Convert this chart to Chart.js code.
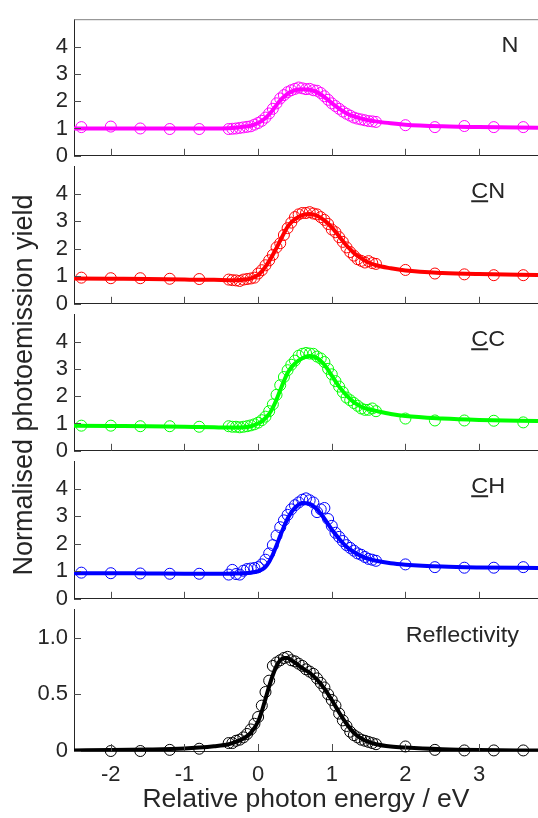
<!DOCTYPE html>
<html lang="en">
<head>
<meta charset="UTF-8">
<title>Normalised photoemission yield</title>
<script src="https://cdn.jsdelivr.net/npm/chart.js@4"></script>
<style>
    body { margin: 0; background: #fff; font-family: 'Liberation Sans', Arial, sans-serif; color: #262626; }
    #fig { position: relative; width: 538px; height: 818px; overflow: hidden; }
    .panel { position: absolute; left: 0; }
    .tag { position: absolute; right: 19px; font-size: 21.5px; line-height: 1; z-index: 2;
           transform: translateY(-50%) scaleX(1.09); transform-origin: right center; }
    .tag.c { right: 33px; }
    .u { text-decoration: underline; }
    #ylab { position: absolute; width: 420px; left: -187px; top: 371px; text-align: center;
            font-size: 27px; line-height: 28px; transform: rotate(-90deg); z-index: 2; }
</style>
</head>
<body>
<div id="fig">
    <div class="panel" style="top:0px"><canvas id="pN" width="538" height="175"></canvas></div>
    <div class="panel" style="top:147px"><canvas id="pCN" width="538" height="176"></canvas></div>
    <div class="panel" style="top:295px"><canvas id="pCC" width="538" height="175"></canvas></div>
    <div class="panel" style="top:442px"><canvas id="pCH" width="538" height="176"></canvas></div>
    <div class="panel" style="top:590px"><canvas id="pR" width="538" height="228"></canvas></div>

    <div class="tag" style="top:46px">N</div>
    <div class="tag c" style="top:192px"><span class="u">C</span>N</div>
    <div class="tag c" style="top:340px"><span class="u">C</span>C</div>
    <div class="tag c" style="top:487px"><span class="u">C</span>H</div>
    <div class="tag" style="top:636px">Reflectivity</div>
    <div id="ylab">Normalised photoemission yield</div>
</div>

<script>
// measured photon energies (eV, relative)
const energy = [-2.4, -2.0, -1.6, -1.2, -0.8,
    -0.4, -0.35, -0.3, -0.25, -0.2, -0.15, -0.1, -0.05,
    0, 0.05, 0.1, 0.15, 0.2, 0.25, 0.3, 0.35, 0.4, 0.45, 0.5, 0.55, 0.6, 0.65, 0.7, 0.75,
    0.8, 0.85, 0.9, 0.95, 1.0, 1.05, 1.1, 1.15, 1.2, 1.25, 1.3, 1.35, 1.4, 1.45, 1.5, 1.55, 1.6,
    2.0, 2.4, 2.8, 3.2, 3.6];

const yieldN = [1.05, 1.07, 1.0, 0.98, 0.98,
    0.98, 0.99, 1.0, 1.02, 1.04, 1.06, 1.08, 1.14,
    1.2, 1.28, 1.4, 1.55, 1.72, 1.92, 2.1, 2.22, 2.33, 2.4, 2.45, 2.5, 2.47, 2.44, 2.45, 2.4,
    2.38, 2.3, 2.18, 2.05, 1.92, 1.82, 1.72, 1.62, 1.54, 1.47, 1.4, 1.36, 1.33, 1.3, 1.27, 1.26, 1.24,
    1.12, 1.05, 1.09, 1.05, 1.05];

const yieldCN = [0.95, 0.93, 0.93, 0.91, 0.9,
    0.88, 0.86, 0.85, 0.83, 0.88, 0.9, 0.92, 0.95,
    1.1, 1.22, 1.4, 1.58, 1.78, 2.05, 2.2, 2.5, 2.75, 2.95, 3.15, 3.25, 3.3, 3.3, 3.33, 3.28,
    3.25, 3.15, 3.05, 2.9, 2.7, 2.6, 2.42, 2.25, 2.05, 1.88, 1.75, 1.62, 1.56, 1.5, 1.55, 1.48, 1.45,
    1.23, 1.1, 1.07, 1.04, 1.04];

const yieldCC = [0.92, 0.92, 0.9, 0.9, 0.88,
    0.9, 0.88, 0.88, 0.86, 0.88, 0.9, 0.93, 0.97,
    1.03, 1.12, 1.25, 1.45, 1.7, 2.05, 2.4, 2.7, 2.95, 3.15, 3.3, 3.48, 3.55, 3.58, 3.56, 3.55,
    3.45, 3.38, 3.25, 3.0, 2.8, 2.55, 2.35, 2.15, 1.95, 1.85, 1.75, 1.65, 1.55, 1.5, 1.5, 1.55, 1.45,
    1.18, 1.11, 1.11, 1.1, 1.04];

const yieldCH = [0.95, 0.93, 0.92, 0.91, 0.91,
    0.88, 1.05, 0.9, 0.88, 1.02, 1.08, 1.1, 1.12,
    1.15, 1.25, 1.42, 1.65, 1.95, 2.3, 2.6, 2.85, 3.05, 3.25, 3.4, 3.5, 3.6, 3.65, 3.58, 3.5,
    3.15, 3.25, 3.3, 2.9, 2.65, 2.4, 2.25, 2.1, 1.95, 1.85, 1.75, 1.65, 1.6, 1.52, 1.45, 1.42, 1.38,
    1.25, 1.15, 1.13, 1.13, 1.15];

// reflectivity has no point at -2.4
const reflEnergy = energy.slice(1);
const reflectivity = [0.0, 0.0, 0.01, 0.02,
    0.07, 0.07, 0.09, 0.1, 0.12, 0.15, 0.19, 0.24,
    0.3, 0.4, 0.52, 0.62, 0.75, 0.78, 0.8, 0.82, 0.83, 0.8, 0.79, 0.77, 0.75, 0.72, 0.7, 0.68,
    0.64, 0.6, 0.56, 0.5, 0.45, 0.4, 0.33, 0.27, 0.22, 0.17, 0.14, 0.12, 0.1, 0.09, 0.08, 0.07, 0.06,
    0.04, 0.01, 0.005, 0.005, 0.005];

// fitted curves
const fitEnergy = [-2.5, -2.0, -1.5, -1.0, -0.8, -0.6, -0.4, -0.3, -0.2, -0.1,
    0, 0.05, 0.1, 0.15, 0.2, 0.25, 0.3, 0.35, 0.4, 0.45, 0.5, 0.6, 0.7, 0.8, 0.9,
    1.0, 1.1, 1.2, 1.3, 1.4, 1.5, 1.6, 1.8, 2.0, 2.5, 3.0, 3.8];
const fitN = [1.0, 1.0, 1.0, 1.0, 1.0, 1.0, 1.01, 1.03, 1.06, 1.1,
    1.2, 1.28, 1.38, 1.52, 1.68, 1.86, 2.03, 2.16, 2.27, 2.35, 2.4, 2.44, 2.42, 2.33, 2.15,
    1.93, 1.73, 1.56, 1.44, 1.36, 1.3, 1.26, 1.19, 1.14, 1.08, 1.05, 1.03];
const fitCN = [0.92, 0.91, 0.9, 0.88, 0.87, 0.87, 0.86, 0.86, 0.87, 0.92,
    1.05, 1.18, 1.35, 1.55, 1.78, 2.03, 2.3, 2.56, 2.8, 2.96, 3.08, 3.22, 3.26, 3.2, 3.03,
    2.78, 2.45, 2.12, 1.85, 1.65, 1.5, 1.4, 1.29, 1.21, 1.12, 1.08, 1.05];
const fitCC = [0.92, 0.91, 0.9, 0.88, 0.87, 0.86, 0.85, 0.85, 0.86, 0.9,
    1.0, 1.08, 1.2, 1.35, 1.58, 1.88, 2.22, 2.55, 2.85, 3.05, 3.2, 3.39, 3.47, 3.4, 3.15,
    2.75, 2.35, 2.03, 1.78, 1.61, 1.52, 1.46, 1.35, 1.27, 1.18, 1.13, 1.09];
const fitCH = [0.93, 0.93, 0.92, 0.91, 0.91, 0.91, 0.91, 0.92, 0.93, 0.95,
    1.0, 1.06, 1.16, 1.35, 1.61, 1.94, 2.29, 2.62, 2.91, 3.14, 3.31, 3.48, 3.45, 3.25, 2.91,
    2.52, 2.18, 1.89, 1.7, 1.55, 1.45, 1.38, 1.29, 1.24, 1.17, 1.14, 1.12];
const fitRefl = [0.005, 0.008, 0.013, 0.022, 0.03, 0.042, 0.06, 0.08, 0.11, 0.16,
    0.26, 0.35, 0.46, 0.57, 0.67, 0.75, 0.8, 0.82, 0.82, 0.8, 0.78, 0.73, 0.69, 0.63, 0.55,
    0.45, 0.34, 0.24, 0.16, 0.11, 0.08, 0.06, 0.04, 0.03, 0.015, 0.008, 0.004];

const xTicks = [-2, -1, 0, 1, 2, 3];
const yieldTicks = [0, 1, 2, 3, 4];
const reflTicks = [0, 0.5, 1.0];

Chart.defaults.font.family = "'Liberation Sans', Arial, sans-serif";
Chart.defaults.color = '#262626';

const pts = (xs, ys) => xs.map((x, i) => ({x: x, y: ys[i]}));

// inward tick marks + optional top border
const frame = {
    id: 'frame',
    afterDraw(chart, args, o) {
        const {ctx, chartArea: a, scales} = chart;
        ctx.save();
        ctx.lineWidth = 1;
        ctx.strokeStyle = '#4d4d4d';
        ctx.beginPath();
        scales.x.ticks.forEach(t => {
            const px = Math.round(scales.x.getPixelForValue(t.value)) + 0.5;
            ctx.moveTo(px, a.bottom);
            ctx.lineTo(px, a.bottom - 7);
        });
        scales.y.ticks.forEach(t => {
            const py = Math.round(scales.y.getPixelForValue(t.value)) + 0.5;
            ctx.moveTo(a.left, py);
            ctx.lineTo(a.left + 7, py);
        });
        ctx.stroke();
        if (o.top) {
            ctx.strokeStyle = '#808080';
            ctx.beginPath();
            ctx.moveTo(a.left, a.top + 0.5);
            ctx.lineTo(a.right, a.top + 0.5);
            ctx.stroke();
        }
        ctx.restore();
    }
};

function panel(id, xs, ys, fit, color, yMax, yTicks, bottom, top) {
    return new Chart(document.getElementById(id), {
        type: 'scatter',
        data: {
            datasets: [
                {
                    data: pts(fitEnergy, fit),
                    showLine: true,
                    borderColor: color,
                    borderWidth: 4,
                    pointRadius: 0,
                    cubicInterpolationMode: 'monotone',
                    order: 0
                },
                {
                    data: pts(xs, ys),
                    showLine: false,
                    borderColor: color,
                    backgroundColor: 'rgba(0,0,0,0)',
                    pointRadius: 5.5,
                    pointBorderWidth: 1,
                    clip: false,
                    order: 1
                }
            ]
        },
        options: {
            responsive: false,
            animation: false,
            devicePixelRatio: 1,
            layout: { autoPadding: false, padding: { top: 14, bottom: bottom ? 0 : 14, left: 0, right: 0 } },
            plugins: { legend: { display: false }, tooltip: { enabled: false }, frame: { top: top } },
            scales: {
                x: {
                    type: 'linear',
                    min: -2.5,
                    max: 3.8,
                    grid: { display: false, drawTicks: false },
                    border: { color: '#262626' },
                    afterBuildTicks: s => { s.ticks = xTicks.map(v => ({value: v})); },
                    ticks: { display: bottom, padding: 11, font: { size: 22 }, color: '#262626' },
                    title: { display: bottom, text: 'Relative photon energy / eV', font: { size: 26.5 },
                             color: '#262626', padding: { top: 0, bottom: 2 } },
                    afterFit: s => { s.height = bottom ? 67 : 0; }
                },
                y: {
                    min: 0,
                    max: yMax,
                    grid: { display: false, drawTicks: false },
                    border: { color: '#262626' },
                    afterBuildTicks: s => { s.ticks = yTicks.map(v => ({value: v})); },
                    ticks: {
                        padding: 6,
                        font: { size: 22 },
                        color: '#262626',
                        callback: v => (yMax < 2 && v !== 0) ? v.toFixed(1) : String(v)
                    },
                    afterFit: s => { s.width = 74; }
                }
            }
        },
        plugins: [frame]
    });
}

panel('pN', energy, yieldN, fitN, '#ff00ff', 5, yieldTicks, false, true);
panel('pCN', energy, yieldCN, fitCN, '#ff0000', 5, yieldTicks, false, false);
panel('pCC', energy, yieldCC, fitCC, '#00ff00', 5, yieldTicks, false, false);
panel('pCH', energy, yieldCH, fitCH, '#0000ff', 5, yieldTicks, false, false);
panel('pR', reflEnergy, reflectivity, fitRefl, '#000000', 1.25, reflTicks, true, false);
</script>
</body>
</html>
